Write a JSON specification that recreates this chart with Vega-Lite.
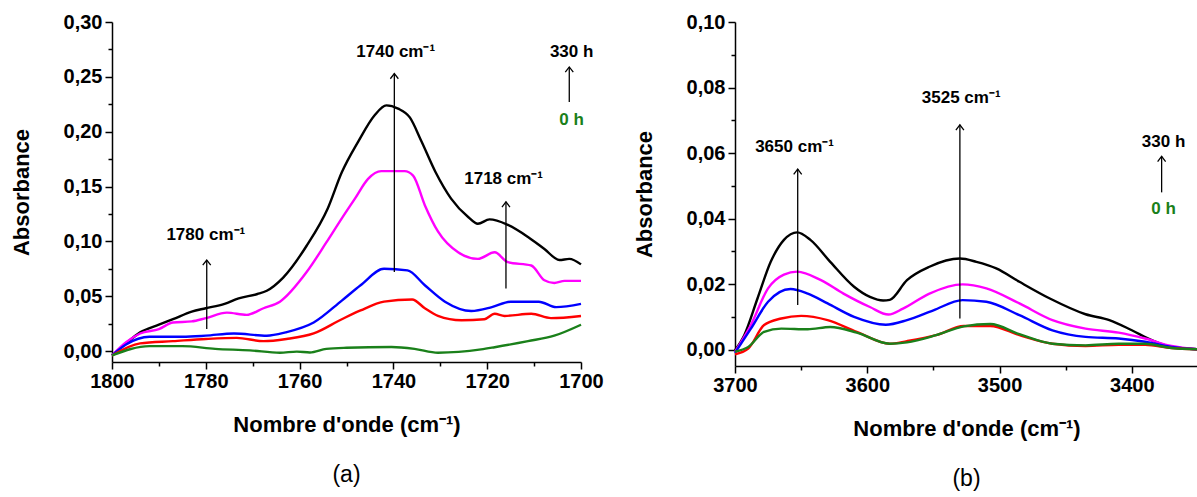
{
  "$schema": "https://vega.github.io/schema/vega-lite/v6.json",
  "background": "white",
  "padding": {"left": 10, "top": 12, "right": 0, "bottom": 5},
  "bounds": "flush",
  "spacing": 154,
  "config": {
    "view": {"stroke": null},
    "axis": {
      "grid": false,
      "domainColor": "black",
      "domainWidth": 1.5,
      "tickColor": "black",
      "tickWidth": 1.5,
      "labelFont": "Liberation Sans",
      "labelFontWeight": "bold",
      "labelFontSize": 20,
      "labelColor": "black",
      "labelFlush": false,
      "labelOverlap": false,
      "titleFont": "Liberation Sans",
      "titleFontWeight": "bold",
      "titleFontSize": 22,
      "titleColor": "black",
      "labelPadding": 3
    }
  },
  "datasets": {
    "a": [
      {"x":1800,"y":-0.004,"s":"330 h"},{"x":1797,"y":0.007,"s":"330 h"},{"x":1794,"y":0.017,"s":"330 h"},{"x":1790,"y":0.024,"s":"330 h"},{"x":1787,"y":0.029,"s":"330 h"},{"x":1783,"y":0.036,"s":"330 h"},{"x":1780,"y":0.039,"s":"330 h"},{"x":1776,"y":0.043,"s":"330 h"},{"x":1773,"y":0.048,"s":"330 h"},{"x":1769,"y":0.052,"s":"330 h"},{"x":1767,"y":0.055,"s":"330 h"},{"x":1763.5,"y":0.067,"s":"330 h"},{"x":1758.5,"y":0.096,"s":"330 h"},{"x":1754,"y":0.13,"s":"330 h"},{"x":1751,"y":0.163,"s":"330 h"},{"x":1747.5,"y":0.191,"s":"330 h"},{"x":1744,"y":0.215,"s":"330 h"},{"x":1741.5,"y":0.224,"s":"330 h"},{"x":1739,"y":0.221,"s":"330 h"},{"x":1736.5,"y":0.213,"s":"330 h"},{"x":1734,"y":0.191,"s":"330 h"},{"x":1731,"y":0.163,"s":"330 h"},{"x":1727.7,"y":0.139,"s":"330 h"},{"x":1724,"y":0.122,"s":"330 h"},{"x":1722,"y":0.116,"s":"330 h"},{"x":1719.5,"y":0.12,"s":"330 h"},{"x":1715.6,"y":0.115,"s":"330 h"},{"x":1711.3,"y":0.104,"s":"330 h"},{"x":1707.8,"y":0.093,"s":"330 h"},{"x":1704.6,"y":0.083,"s":"330 h"},{"x":1702.5,"y":0.084,"s":"330 h"},{"x":1700,"y":0.079,"s":"330 h"},
      {"x":1800,"y":-0.004,"s":"t3"},{"x":1797,"y":0.008,"s":"t3"},{"x":1794,"y":0.016,"s":"t3"},{"x":1790,"y":0.02,"s":"t3"},{"x":1787,"y":0.026,"s":"t3"},{"x":1783,"y":0.027,"s":"t3"},{"x":1780,"y":0.03,"s":"t3"},{"x":1775.5,"y":0.035,"s":"t3"},{"x":1771.3,"y":0.033,"s":"t3"},{"x":1767.7,"y":0.039,"s":"t3"},{"x":1764.2,"y":0.045,"s":"t3"},{"x":1758.5,"y":0.072,"s":"t3"},{"x":1754.3,"y":0.099,"s":"t3"},{"x":1751,"y":0.121,"s":"t3"},{"x":1748.2,"y":0.139,"s":"t3"},{"x":1745.4,"y":0.157,"s":"t3"},{"x":1742.6,"y":0.164,"s":"t3"},{"x":1737.6,"y":0.164,"s":"t3"},{"x":1735.8,"y":0.16,"s":"t3"},{"x":1733.3,"y":0.133,"s":"t3"},{"x":1730.5,"y":0.109,"s":"t3"},{"x":1726.2,"y":0.09,"s":"t3"},{"x":1722,"y":0.084,"s":"t3"},{"x":1718.4,"y":0.09,"s":"t3"},{"x":1715.6,"y":0.081,"s":"t3"},{"x":1710.6,"y":0.078,"s":"t3"},{"x":1707.8,"y":0.0645,"s":"t3"},{"x":1705.7,"y":0.062,"s":"t3"},{"x":1703.5,"y":0.064,"s":"t3"},{"x":1700,"y":0.064,"s":"t3"},
      {"x":1800,"y":-0.004,"s":"t2"},{"x":1797,"y":0.006,"s":"t2"},{"x":1792,"y":0.013,"s":"t2"},{"x":1785,"y":0.013,"s":"t2"},{"x":1780,"y":0.014,"s":"t2"},{"x":1774,"y":0.016,"s":"t2"},{"x":1767,"y":0.014,"s":"t2"},{"x":1763,"y":0.017,"s":"t2"},{"x":1757,"y":0.026,"s":"t2"},{"x":1751,"y":0.046,"s":"t2"},{"x":1747,"y":0.06,"s":"t2"},{"x":1742,"y":0.075,"s":"t2"},{"x":1737,"y":0.0735,"s":"t2"},{"x":1733.3,"y":0.06,"s":"t2"},{"x":1729,"y":0.045,"s":"t2"},{"x":1723.4,"y":0.0365,"s":"t2"},{"x":1719,"y":0.04,"s":"t2"},{"x":1715,"y":0.045,"s":"t2"},{"x":1709,"y":0.045,"s":"t2"},{"x":1705.3,"y":0.04,"s":"t2"},{"x":1700,"y":0.043,"s":"t2"},
      {"x":1800,"y":-0.004,"s":"t1"},{"x":1794,"y":0.007,"s":"t1"},{"x":1787,"y":0.009,"s":"t1"},{"x":1780,"y":0.011,"s":"t1"},{"x":1773.4,"y":0.012,"s":"t1"},{"x":1767.7,"y":0.009,"s":"t1"},{"x":1762.8,"y":0.011,"s":"t1"},{"x":1757,"y":0.016,"s":"t1"},{"x":1751,"y":0.029,"s":"t1"},{"x":1747,"y":0.037,"s":"t1"},{"x":1742,"y":0.045,"s":"t1"},{"x":1736,"y":0.047,"s":"t1"},{"x":1733.3,"y":0.039,"s":"t1"},{"x":1730.5,"y":0.032,"s":"t1"},{"x":1725.5,"y":0.028,"s":"t1"},{"x":1720.6,"y":0.029,"s":"t1"},{"x":1718.4,"y":0.034,"s":"t1"},{"x":1716.3,"y":0.032,"s":"t1"},{"x":1710.6,"y":0.034,"s":"t1"},{"x":1706.4,"y":0.03,"s":"t1"},{"x":1700,"y":0.032,"s":"t1"},
      {"x":1800,"y":-0.004,"s":"0 h"},{"x":1792,"y":0.0045,"s":"0 h"},{"x":1785,"y":0.0045,"s":"0 h"},{"x":1778,"y":0.002,"s":"0 h"},{"x":1770.6,"y":0.0006,"s":"0 h"},{"x":1764.2,"y":-0.0015,"s":"0 h"},{"x":1760.6,"y":-0.0005,"s":"0 h"},{"x":1757.8,"y":-0.0013,"s":"0 h"},{"x":1754.3,"y":0.002,"s":"0 h"},{"x":1750,"y":0.003,"s":"0 h"},{"x":1740.4,"y":0.0037,"s":"0 h"},{"x":1735.5,"y":0.002,"s":"0 h"},{"x":1730.5,"y":-0.0015,"s":"0 h"},{"x":1721.3,"y":0.0015,"s":"0 h"},{"x":1718.4,"y":0.0035,"s":"0 h"},{"x":1711.3,"y":0.009,"s":"0 h"},{"x":1705.7,"y":0.014,"s":"0 h"},{"x":1700,"y":0.024,"s":"0 h"}
    ],
    "b": [
      {"x":3700,"y":-0.0002,"s":"330 h"},{"x":3693,"y":0.0044,"s":"330 h"},{"x":3683,"y":0.0156,"s":"330 h"},{"x":3673,"y":0.0268,"s":"330 h"},{"x":3663,"y":0.0335,"s":"330 h"},{"x":3653,"y":0.0358,"s":"330 h"},{"x":3643,"y":0.0335,"s":"330 h"},{"x":3628,"y":0.0268,"s":"330 h"},{"x":3610,"y":0.0192,"s":"330 h"},{"x":3598,"y":0.0161,"s":"330 h"},{"x":3588,"y":0.015,"s":"330 h"},{"x":3583,"y":0.0152,"s":"330 h"},{"x":3570,"y":0.0212,"s":"330 h"},{"x":3553,"y":0.0253,"s":"330 h"},{"x":3530,"y":0.0278,"s":"330 h"},{"x":3517.5,"y":0.0268,"s":"330 h"},{"x":3502.5,"y":0.0248,"s":"330 h"},{"x":3485,"y":0.0207,"s":"330 h"},{"x":3462,"y":0.0156,"s":"330 h"},{"x":3435,"y":0.0108,"s":"330 h"},{"x":3417,"y":0.009,"s":"330 h"},{"x":3400,"y":0.0059,"s":"330 h"},{"x":3385,"y":0.0029,"s":"330 h"},{"x":3370,"y":0.0008,"s":"330 h"},{"x":3350,"y":0.0001,"s":"330 h"},
      {"x":3700,"y":-0.0007,"s":"t3"},{"x":3688,"y":0.0075,"s":"t3"},{"x":3675,"y":0.0187,"s":"t3"},{"x":3663,"y":0.0229,"s":"t3"},{"x":3653,"y":0.0238,"s":"t3"},{"x":3635,"y":0.0212,"s":"t3"},{"x":3618,"y":0.0171,"s":"t3"},{"x":3598,"y":0.013,"s":"t3"},{"x":3584,"y":0.0107,"s":"t3"},{"x":3573,"y":0.0125,"s":"t3"},{"x":3553,"y":0.0171,"s":"t3"},{"x":3528,"y":0.0199,"s":"t3"},{"x":3510,"y":0.0187,"s":"t3"},{"x":3485,"y":0.0141,"s":"t3"},{"x":3460,"y":0.009,"s":"t3"},{"x":3435,"y":0.0064,"s":"t3"},{"x":3410,"y":0.0052,"s":"t3"},{"x":3390,"y":0.0034,"s":"t3"},{"x":3370,"y":0.0011,"s":"t3"},{"x":3350,"y":0.0001,"s":"t3"},
      {"x":3700,"y":-0.001,"s":"t2"},{"x":3688,"y":0.0064,"s":"t2"},{"x":3675,"y":0.0146,"s":"t2"},{"x":3658,"y":0.0185,"s":"t2"},{"x":3645,"y":0.0171,"s":"t2"},{"x":3630,"y":0.0141,"s":"t2"},{"x":3610,"y":0.01,"s":"t2"},{"x":3586,"y":0.0076,"s":"t2"},{"x":3570,"y":0.009,"s":"t2"},{"x":3550,"y":0.012,"s":"t2"},{"x":3528,"y":0.0151,"s":"t2"},{"x":3510,"y":0.0146,"s":"t2"},{"x":3485,"y":0.0105,"s":"t2"},{"x":3460,"y":0.0059,"s":"t2"},{"x":3435,"y":0.0039,"s":"t2"},{"x":3410,"y":0.0034,"s":"t2"},{"x":3390,"y":0.0024,"s":"t2"},{"x":3370,"y":0.0008,"s":"t2"},{"x":3350,"y":0.0001,"s":"t2"},
      {"x":3700,"y":-0.0014,"s":"t1"},{"x":3690,"y":0.0003,"s":"t1"},{"x":3678,"y":0.0075,"s":"t1"},{"x":3665,"y":0.0095,"s":"t1"},{"x":3650,"y":0.0103,"s":"t1"},{"x":3630,"y":0.009,"s":"t1"},{"x":3608,"y":0.0054,"s":"t1"},{"x":3583,"y":0.0018,"s":"t1"},{"x":3570,"y":0.0026,"s":"t1"},{"x":3548,"y":0.0044,"s":"t1"},{"x":3527,"y":0.0072,"s":"t1"},{"x":3507,"y":0.0072,"s":"t1"},{"x":3485,"y":0.0044,"s":"t1"},{"x":3460,"y":0.0018,"s":"t1"},{"x":3435,"y":0.0011,"s":"t1"},{"x":3410,"y":0.0015,"s":"t1"},{"x":3390,"y":0.0015,"s":"t1"},{"x":3370,"y":0.0005,"s":"t1"},{"x":3350,"y":0.0001,"s":"t1"},
      {"x":3700,"y":-0.0006,"s":"0 h"},{"x":3690,"y":0.0008,"s":"0 h"},{"x":3678,"y":0.0054,"s":"0 h"},{"x":3665,"y":0.0064,"s":"0 h"},{"x":3645,"y":0.0062,"s":"0 h"},{"x":3628,"y":0.0069,"s":"0 h"},{"x":3608,"y":0.0052,"s":"0 h"},{"x":3583,"y":0.0018,"s":"0 h"},{"x":3570,"y":0.0022,"s":"0 h"},{"x":3548,"y":0.0044,"s":"0 h"},{"x":3527,"y":0.0071,"s":"0 h"},{"x":3507,"y":0.0078,"s":"0 h"},{"x":3485,"y":0.0047,"s":"0 h"},{"x":3460,"y":0.0018,"s":"0 h"},{"x":3435,"y":0.0013,"s":"0 h"},{"x":3410,"y":0.0018,"s":"0 h"},{"x":3390,"y":0.0018,"s":"0 h"},{"x":3370,"y":0.0005,"s":"0 h"},{"x":3350,"y":0.0001,"s":"0 h"}
    ],
    "arrA": [
      {"x":1739.8,"y":0.072,"y2":0.253},
      {"x":1779.8,"y":0.02,"y2":0.083},
      {"x":1716,"y":0.057,"y2":0.136},
      {"x":1702.5,"y":0.227,"y2":0.259}
    ],
    "txtA": [
      {"x":1739.5,"y":0.273,"label":"1740 cm⁻¹"},
      {"x":1780,"y":0.106,"label":"1780 cm⁻¹"},
      {"x":1716.5,"y":0.157,"label":"1718 cm⁻¹"},
      {"x":1702,"y":0.273,"label":"330 h"},
      {"x":1702,"y":0.211,"label":"0 h"}
    ],
    "arrB": [
      {"x":3652.6,"y":0.0136,"y2":0.0551},
      {"x":3530,"y":0.0095,"y2":0.0686},
      {"x":3377.5,"y":0.048,"y2":0.059}
    ],
    "txtB": [
      {"x":3655,"y":0.0619,"label":"3650 cm⁻¹"},
      {"x":3529,"y":0.0768,"label":"3525 cm⁻¹"},
      {"x":3376,"y":0.0634,"label":"330 h"},
      {"x":3376,"y":0.0429,"label":"0 h"}
    ]
  },
  "hconcat": [
    {
      "width": 469,
      "height": 340,
      "title": {"text": "(a)", "orient": "bottom", "font": "Liberation Sans", "fontSize": 23, "fontWeight": "normal", "color": "black", "offset": 29, "anchor": "middle"},
      "encoding": {
        "x": {"field": "x", "type": "quantitative", "title": "Nombre d'onde (cm⁻¹)",
          "scale": {"domain": [1700, 1800], "reverse": true, "nice": false, "zero": false},
          "axis": {"values": [1800,1790,1780,1770,1760,1750,1740,1730,1720,1710,1700],
            "labelExpr": "datum.value % 20 === 0 ? format(datum.value, 'd') : ''",
            "tickSize": {"condition": {"test": "datum.value % 20 === 0", "value": 7}, "value": 4},
            "labelPadding": 2,
            "titlePadding": 23}},
        "y": {"field": "y", "type": "quantitative", "title": "Absorbance",
          "scale": {"domain": [-0.01, 0.30], "nice": false, "zero": false},
          "axis": {"values": [0,0.025,0.05,0.075,0.1,0.125,0.15,0.175,0.2,0.225,0.25,0.275,0.3],
            "labelExpr": "round(datum.value*1000) % 50 === 0 ? replace(format(datum.value, '.2f'), '.', ',') : ''",
            "tickSize": {"condition": {"test": "round(datum.value*1000) % 50 === 0", "value": 7}, "value": 4},
            "titlePadding": 30}}
      },
      "layer": [
        {"data": {"name": "a"},
         "mark": {"type": "line", "strokeWidth": 2.4, "interpolate": "monotone"},
         "encoding": {"color": {"field": "s", "type": "nominal", "legend": null,
            "scale": {"domain": ["0 h","t1","t2","t3","330 h"], "range": ["#1a801a","#ff0000","#0000ff","#ff00ff","#000000"]}}}},
        {"data": {"name": "arrA"},
         "mark": {"type": "rule", "strokeWidth": 1.3, "color": "black"},
         "encoding": {"y2": {"field": "y2"}}},
        {"data": {"name": "arrA"},
         "mark": {"type": "point", "shape": "M-1,1.3L0,0L1,1.3", "filled": false, "size": 64, "strokeWidth": 1.3, "color": "black", "opacity": 1},
         "encoding": {"y": {"field": "y2", "type": "quantitative", "title": "Absorbance"}}},
        {"data": {"name": "txtA"},
         "mark": {"type": "text", "font": "Liberation Sans", "fontWeight": "bold", "fontSize": 17, "baseline": "middle"},
         "encoding": {"text": {"field": "label"},
           "color": {"condition": {"test": "datum.label === '0 h'", "value": "#1a801a"}, "value": "black"}}}
      ]
    },
    {
      "width": 463,
      "height": 344,
      "title": {"text": "(b)", "orient": "bottom", "font": "Liberation Sans", "fontSize": 23, "fontWeight": "normal", "color": "black", "offset": 29, "anchor": "middle"},
      "encoding": {
        "x": {"field": "x", "type": "quantitative", "title": "Nombre d'onde (cm⁻¹)",
          "scale": {"domain": [3350, 3700], "reverse": true, "nice": false, "zero": false},
          "axis": {"values": [3700,3650,3600,3550,3500,3450,3400,3350],
            "labelExpr": "datum.value % 100 === 0 ? format(datum.value, 'd') : ''",
            "tickSize": {"condition": {"test": "datum.value % 100 === 0", "value": 7}, "value": 4},
            "labelPadding": 2,
            "titlePadding": 23}},
        "y": {"field": "y", "type": "quantitative", "title": "Absorbance",
          "scale": {"domain": [-0.005, 0.10], "nice": false, "zero": false},
          "axis": {"values": [0,0.01,0.02,0.03,0.04,0.05,0.06,0.07,0.08,0.09,0.1],
            "labelExpr": "round(datum.value*1000) % 20 === 0 ? replace(format(datum.value, '.2f'), '.', ',') : ''",
            "tickSize": {"condition": {"test": "round(datum.value*1000) % 20 === 0", "value": 7}, "value": 4},
            "titlePadding": 30}}
      },
      "layer": [
        {"data": {"name": "b"},
         "mark": {"type": "line", "strokeWidth": 2.4, "interpolate": "monotone"},
         "encoding": {"color": {"field": "s", "type": "nominal", "legend": null,
            "scale": {"domain": ["0 h","t1","t2","t3","330 h"], "range": ["#1a801a","#ff0000","#0000ff","#ff00ff","#000000"]}}}},
        {"data": {"name": "arrB"},
         "mark": {"type": "rule", "strokeWidth": 1.3, "color": "black"},
         "encoding": {"y2": {"field": "y2"}}},
        {"data": {"name": "arrB"},
         "mark": {"type": "point", "shape": "M-1,1.3L0,0L1,1.3", "filled": false, "size": 64, "strokeWidth": 1.3, "color": "black", "opacity": 1},
         "encoding": {"y": {"field": "y2", "type": "quantitative", "title": "Absorbance"}}},
        {"data": {"name": "txtB"},
         "mark": {"type": "text", "font": "Liberation Sans", "fontWeight": "bold", "fontSize": 17, "baseline": "middle"},
         "encoding": {"text": {"field": "label"},
           "color": {"condition": {"test": "datum.label === '0 h'", "value": "#1a801a"}, "value": "black"}}}
      ]
    }
  ]
}
